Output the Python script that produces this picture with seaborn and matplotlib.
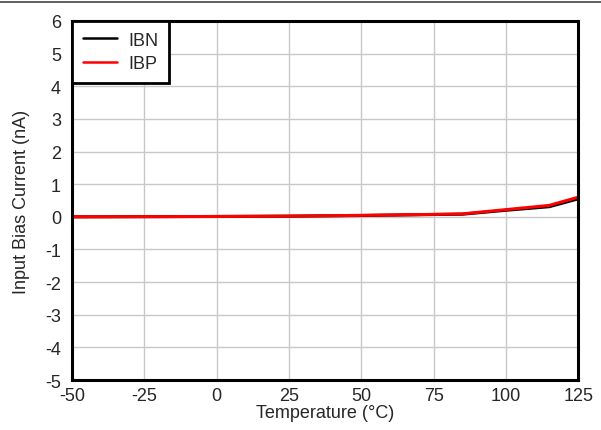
import numpy as np
import pandas as pd
import matplotlib
matplotlib.use("Agg")
import matplotlib.pyplot as plt
import seaborn as sns
from matplotlib.lines import Line2D

# Input bias current vs temperature.
temperature = [-50, -25, 0, 25, 50, 75, 85, 100, 115, 125]
ibn = [0.0, 0.005, 0.01, 0.02, 0.04, 0.07, 0.08, 0.2, 0.31, 0.55]
ibp = [0.0, 0.005, 0.01, 0.02, 0.045, 0.075, 0.09, 0.22, 0.35, 0.6]

df = pd.concat([
    pd.DataFrame({"Temperature": temperature, "Current": ibn, "Series": "IBN"}),
    pd.DataFrame({"Temperature": temperature, "Current": ibp, "Series": "IBP"}),
])

sns.set_theme(style="white")
plt.rcParams["font.family"] = ["Liberation Sans", "DejaVu Sans"]
plt.rcParams["axes.unicode_minus"] = False

fig, ax = plt.subplots(figsize=(6.01, 4.31), dpi=100)
fig.subplots_adjust(left=0.12, right=0.962, top=0.949, bottom=0.116)

sns.lineplot(
    data=df, x="Temperature", y="Current", hue="Series",
    palette={"IBN": "black", "IBP": "#ff0000"},
    linewidth=2.2, ax=ax, legend=False,
)

ax.set_xlim(-50, 125)
ax.set_ylim(-5, 6)
ax.set_xticks(np.arange(-50, 126, 25))
ax.set_yticks(np.arange(-5, 7, 1))
ax.grid(True, color="#c8c8c8", linewidth=1.0)
ax.tick_params(labelsize=13, length=0)
ax.tick_params(axis="x", pad=5)
ax.tick_params(axis="y", pad=8)
for s in ax.spines.values():
    s.set_color("black")
    s.set_linewidth(2.2)

ax.set_xlabel("Temperature (°C)", fontsize=13, labelpad=0)
ax.set_ylabel("Input Bias Current (nA)", fontsize=13, labelpad=11)

handles = [Line2D([], [], color="black", linewidth=1.8),
           Line2D([], [], color="#ff0000", linewidth=1.8)]
leg = ax.legend(handles, ["IBN", "IBP"], loc="upper left", fontsize=13,
                fancybox=False, framealpha=1, edgecolor="black",
                borderaxespad=0, handlelength=1.9, handletextpad=0.6,
                borderpad=0.6, labelspacing=0.35)
leg.get_frame().set_linewidth(2.0)

# thin rule across the very top of the figure
fig.add_artist(Line2D([0, 1], [0.993, 0.993], transform=fig.transFigure,
                      color="#444444", linewidth=1.2))

fig.savefig("out.png", dpi=100)
